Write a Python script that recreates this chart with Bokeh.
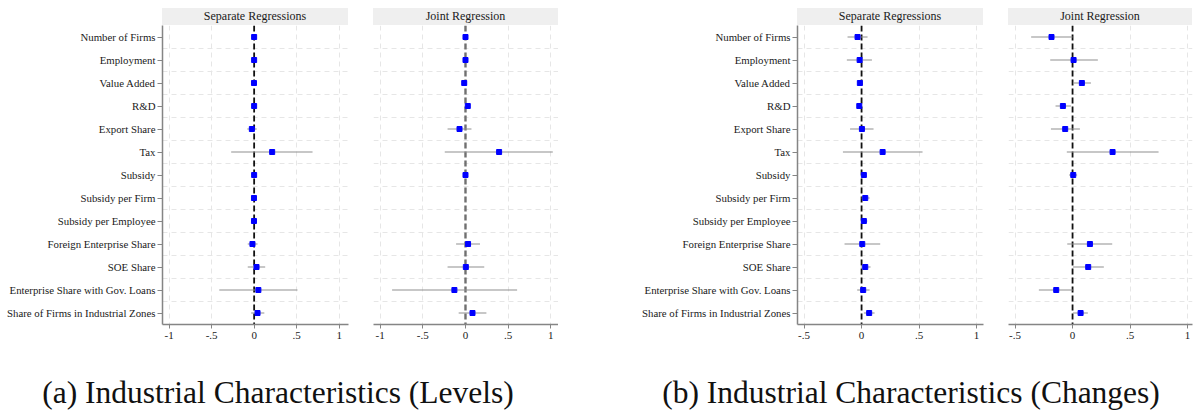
from bokeh.plotting import figure
from bokeh.models import Range1d, FixedTicker, Span, ColumnDataSource, Div, CustomJSTickFormatter
from bokeh.layouts import row, column
from bokeh.embed import file_html
from bokeh.resources import INLINE

# ---------------- data ----------------
categories = [
    "Number of Firms", "Employment", "Value Added", "R&D", "Export Share", "Tax",
    "Subsidy", "Subsidy per Firm", "Subsidy per Employee", "Foreign Enterprise Share",
    "SOE Share", "Enterprise Share with Gov. Loans", "Share of Firms in Industrial Zones",
]
panel_titles = ["Separate Regressions", "Joint Regression"]
captions = ["(a) Industrial Characteristics (Levels)", "(b) Industrial Characteristics (Changes)"]

levels_ticks = [-1, -0.5, 0, 0.5, 1]
changes_ticks = [-0.5, 0, 0.5, 1]

levels_sep_coef = [0.0, 0.0, -0.002, 0.0, -0.027, 0.212, 0.0, -0.002, -0.002, -0.02, 0.028, 0.05, 0.04]
levels_sep_lo = [-0.01, -0.01, -0.012, -0.01, -0.08, -0.27, -0.01, -0.01, -0.01, -0.075, -0.075, -0.41, -0.035]
levels_sep_hi = [0.01, 0.01, 0.008, 0.01, 0.03, 0.687, 0.01, 0.006, 0.006, 0.04, 0.13, 0.51, 0.12]

levels_joint_coef = [0.0, 0.0, -0.015, 0.027, -0.07, 0.394, 0.0, None, None, 0.03, 0.004, -0.13, 0.082]
levels_joint_lo = [-0.02, -0.015, -0.03, 0.01, -0.21, -0.243, -0.01, None, None, -0.11, -0.21, -0.86, -0.08]
levels_joint_hi = [0.02, 0.015, 0.0, 0.045, 0.07, 1.023, 0.01, None, None, 0.17, 0.22, 0.605, 0.245]

changes_sep_coef = [-0.035, -0.017, -0.015, -0.02, 0.003, 0.183, 0.02, 0.032, 0.02, 0.006, 0.032, 0.014, 0.066]
changes_sep_lo = [-0.122, -0.128, -0.025, -0.032, -0.1, -0.162, 0.005, 0.0, -0.007, -0.148, -0.007, -0.038, 0.02]
changes_sep_hi = [0.052, 0.09, -0.005, -0.008, 0.104, 0.53, 0.035, 0.07, 0.05, 0.162, 0.078, 0.07, 0.113]

changes_joint_coef = [-0.183, 0.009, 0.081, -0.084, -0.064, 0.348, 0.006, None, None, 0.151, 0.136, -0.142, 0.07]
changes_joint_lo = [-0.36, -0.194, 0.003, -0.148, -0.188, -0.05, -0.03, None, None, -0.046, 0.003, -0.293, 0.003]
changes_joint_hi = [0.0, 0.22, 0.16, -0.014, 0.064, 0.748, 0.04, None, None, 0.345, 0.272, 0.003, 0.133]

# ---------------- styling ----------------
FONT = "Liberation Serif"
FRAME_H = 299
HEADER_H = 17
AXIS_COLOR = "#858585"
GRID_COLOR = "#e6e6e6"


def make_panel(title, coef, lo, hi, ticks, x_start, x_end, frame_w, left, right,
               show_labels, zero_color, zero_width):
    idx = [i for i, c in enumerate(coef) if c is not None]
    src = ColumnDataSource(dict(
        y=[i + 1 for i in idx],
        coef=[coef[i] for i in idx],
        lo=[lo[i] for i in idx],
        hi=[hi[i] for i in idx],
    ))
    n = len(categories)
    p = figure(
        frame_width=frame_w, frame_height=FRAME_H,
        x_range=Range1d(x_start, x_end), y_range=Range1d(n + 0.5, 0.5),
        output_backend="svg", toolbar_location=None,
        min_border_left=left, min_border_right=right,
        min_border_top=0, min_border_bottom=30,
        outline_line_color=None, background_fill_color="white", border_fill_color="white",
    )
    # x axis
    xa = p.xaxis[0]
    xa.ticker = FixedTicker(ticks=ticks)
    xa.formatter = CustomJSTickFormatter(code="return tick.toString().replace('0.', '.')")
    xa.axis_line_color = AXIS_COLOR
    xa.axis_line_width = 1.5
    xa.major_tick_line_color = AXIS_COLOR
    xa.major_tick_out = 4
    xa.major_tick_in = 0
    xa.minor_tick_line_color = None
    xa.major_label_text_font = FONT
    xa.major_label_text_font_size = "11px"
    xa.major_label_text_color = "#1a1a1a"
    xa.major_label_standoff = 3
    # y axis
    ya = p.yaxis[0]
    if show_labels:
        ya.ticker = FixedTicker(ticks=[i + 1 for i in range(n)])
        ya.major_label_overrides = {i + 1: name for i, name in enumerate(categories)}
        ya.axis_line_color = AXIS_COLOR
        ya.axis_line_width = 1.5
        ya.major_tick_line_color = AXIS_COLOR
        ya.major_tick_out = 5
        ya.major_tick_in = 0
        ya.minor_tick_line_color = None
        ya.major_label_text_font = FONT
        ya.major_label_text_font_size = "10.8px"
        ya.major_label_text_color = "#1a1a1a"
        ya.major_label_standoff = 2
    else:
        ya.visible = False
    # grids
    p.xgrid.ticker = FixedTicker(ticks=ticks)
    p.ygrid.ticker = FixedTicker(ticks=[i + 1.5 for i in range(n - 1)])
    for g in (p.xgrid[0], p.ygrid[0]):
        g.grid_line_color = GRID_COLOR
        g.grid_line_dash = "5 4"
        g.grid_line_width = 1
    # zero line
    p.add_layout(Span(location=0, dimension="height", line_color=zero_color,
                      line_width=zero_width, line_dash="6 3", level="underlay"))
    # CIs and points
    p.segment(x0="lo", y0="y", x1="hi", y1="y", source=src, line_color="#8f8f8f", line_width=1)
    p.scatter(x="coef", y="y", source=src, marker="square", size=5,
              fill_color="#0000ff", line_color="#0000ff")

    header = Div(
        text=title, width=frame_w, height=HEADER_H, margin=(8, 0, 0, left),
        styles={"background-color": "#efefef", "font-family": FONT, "font-size": "12px",
                "line-height": f"{HEADER_H}px", "text-align": "center", "color": "#1a1a1a",
                "white-space": "nowrap"},
    )
    return column(header, p, spacing=0)


c1 = make_panel(panel_titles[0], levels_sep_coef, levels_sep_lo, levels_sep_hi, levels_ticks,
                -1.078, 1.11, 186, 162, 10, True, "#111111", 1.8)
c2 = make_panel(panel_titles[1], levels_joint_coef, levels_joint_lo, levels_joint_hi, levels_ticks,
                -1.078, 1.09, 185, 15, 0, False, "#707070", 2.4)
c3 = make_panel(panel_titles[0], changes_sep_coef, changes_sep_lo, changes_sep_hi, changes_ticks,
                -0.557, 1.06, 186, 239, 10, True, "#111111", 1.8)
c4 = make_panel(panel_titles[1], changes_joint_coef, changes_joint_lo, changes_joint_hi, changes_ticks,
                -0.557, 1.043, 184, 15, 1, False, "#111111", 1.8)

cap_style = {"font-family": FONT, "font-size": "31.5px", "line-height": "31px",
             "text-align": "center", "color": "#111111", "white-space": "nowrap"}
capA = Div(text=captions[0], width=556, height=31, margin=(23, 0, 0, 0), styles=cap_style)
capB = Div(text=captions[1], width=562, height=31, margin=(23, 0, 0, 74), styles=cap_style)

layout = column(row(c1, c2, c3, c4, spacing=0), row(capA, capB, spacing=0), spacing=0)

open("out.html", "w").write(file_html(layout, INLINE))
